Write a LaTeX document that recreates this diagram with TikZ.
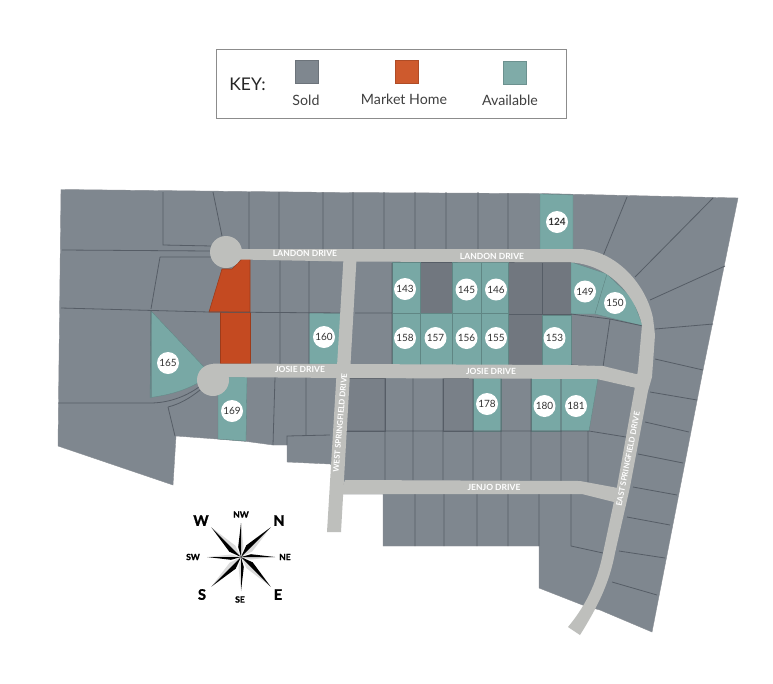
\documentclass[tikz,border=0pt]{standalone}
\usepackage{fontspec}
\setmainfont{Lato}
\newfontfamily\compassfont[BoldFeatures={FakeBold=1.6}]{Lato}
\definecolor{sold}{HTML}{7F878F}
\definecolor{solddark}{HTML}{71777F}
\definecolor{lotline}{HTML}{565D66}
\definecolor{roadc}{HTML}{BEBFBC}
\definecolor{avail}{HTML}{78A8A5}
\definecolor{market}{HTML}{C44A21}
\definecolor{keymarket}{HTML}{CE5A2D}
\definecolor{keyavail}{HTML}{7FABA8}
\tikzset{
  lotlines/.style={draw=lotline,line width=0.8pt},
  teal/.style={fill=avail,draw=avail!80!black,line width=0.3pt},
  darklot/.style={fill=solddark,draw=lotline,line width=0.6pt},
  softlot/.style={fill=solddark!45!sold,draw=lotline,line width=0.6pt},
  mkt/.style={fill=market,draw=market!80!black,line width=0.6pt},
  roadfill/.style={fill=roadc,draw=none},
  lotnum/.style={circle,fill=white,minimum size=22pt,inner sep=0pt,font=\fontsize{10}{10}\selectfont,text=black!80},
  roadlabel/.style={font=\fontsize{8.5}{9}\bfseries\selectfont,text=white,inner sep=0pt},
  keysq/.style={draw=#1!85!black,fill=#1,line width=0.6pt},
  keylabel/.style={font=\fontsize{14.2}{15}\selectfont,text=black!75,inner sep=0pt},
  compasslabel/.style={font=\compassfont\fontsize{#1}{12}\bfseries\selectfont,text=black,inner sep=0pt}
}
\begin{document}
\begin{tikzpicture}[x=1pt,y=-1pt]
\useasboundingbox (0,0) rectangle (773,683);
\fill[white] (0,0) rectangle (773,683);

% key
\draw[draw=black!45,line width=0.8pt] (216.5,49) rectangle (566,118.5);
\draw[keysq=sold] (295,60.5) rectangle (318,83);
\draw[keysq=keymarket] (395,60.5) rectangle (418,83);
\draw[keysq=keyavail] (503,61.5) rectangle (526,84);
\node[font=\fontsize{17.5}{18}\selectfont,text=black!85,inner sep=0pt] (keytitle) at (247.5,84) {KEY:};
\node[keylabel] (keysold) at (306,100.5) {Sold};
\node[keylabel] (keymkt) at (404,99.5) {Market Home};
\node[keylabel] (keyav) at (510,100) {Available};

% land
\fill[sold,draw=lotline!70,line width=0.4pt]
  (61,189.5) -- (340,192.5) -- (540,193.5) -- (738,198) -- (703,370) -- (652,632)
  -- (600,610) -- (585,606) -- (539,588) -- (539,546) -- (383,546) -- (383,494)
  -- (342,494) -- (342,470) -- (330,464) -- (287,462) -- (287,445) -- (273,445)
  -- (247,441.5) -- (217,439) -- (176,436) -- (173,485) -- (58,446) -- cycle;

% darker lots
\draw[darklot] (420,262) rectangle (452,313);
\draw[darklot] (508,262) rectangle (542,314);
\draw[darklot] (542,262) rectangle (571,314);
\draw[darklot] (508,314) rectangle (542,365);
\draw[softlot] (346,378) rectangle (385,431);
\draw[softlot] (443,378) rectangle (473,431);

% available lots
\draw[teal] (540,194) -- (573,195) -- (573,250) -- (540,250) -- cycle;
\draw[teal] (392,262) rectangle (420,313);
\draw[teal] (452,262) rectangle (481,313);
\draw[teal] (481,262) rectangle (508,313);
\draw[teal] (571,262) -- (607,274) -- (595,314) -- (571,314) -- cycle;
\draw[teal] (607,274) -- (632,298) -- (643,326) -- (595,314) -- cycle;
\draw[teal] (392,313) rectangle (420,365);
\draw[teal] (420,313) rectangle (452,365);
\draw[teal] (452,313) rectangle (481,365);
\draw[teal] (481,313) rectangle (508,365);
\draw[teal] (542,315) rectangle (571,366);
\draw[teal] (309,313) -- (342,313) -- (340,364) -- (309,364) -- cycle;
\draw[teal] (151,311) -- (204,367) -- (198,383) .. controls (185,390) and (170,395) .. (150,397.5) -- cycle;
\draw[teal] (218,385) -- (228,377) -- (247,377) -- (246,441) -- (218,439) -- cycle;
\draw[teal] (473,378) rectangle (501,431);
\draw[teal] (531,378) rectangle (561,431);
\draw[teal] (561,378) -- (598,378) -- (589,431) -- (561,431) -- cycle;

% market homes
\draw[mkt] (222,269) -- (232,269) -- (242,259) -- (250,259) -- (250,312) -- (209,312) -- cycle;
\draw[mkt] (220,312) -- (250,312) -- (250,363) -- (220,363) -- cycle;

% lot lines
\draw[lotlines]
  (163,192) -- (163,245) -- (212,246)
  (213,192) -- (222,236)
  (249,192) -- (249,249) (279,192) -- (279,249) (323,192) -- (323,249)
  (353,192) -- (353,249) (384,192) -- (384,249) (415,192) -- (415,249)
  (446,192) -- (446,249) (478,192) -- (478,249) (508,193) -- (508,249)
  (62,250) -- (211,251)
  (160,257) -- (211,257) (160,257) -- (151,309)
  (61,308) -- (209,312) -- (345,313)
  (280,259) -- (280,364) (309,259) -- (309,364)
  (151,311) -- (151,397)
  (355,313) -- (392,313)
  (392,263) -- (392,364)
  (571,314) -- (610,319) -- (643,326)
  (610,319) -- (603,367)
  (571,365) -- (603,367) -- (637,375)
  (627,197) -- (603,256)
  (713,198) -- (635,277)
  (725,266) -- (650,300)
  (713,324) -- (655,329)
  (703,370) -- (655,359)
  (650,392) -- (697,400)
  (645,422) -- (689,432)
  (638,454) -- (683,463)
  (633,487) -- (677,495)
  (627,517) -- (670,525)
  (619,551) -- (665,558)
  (612,582) -- (657,595)
  (58,403) -- (150,403) .. controls (168,403) and (185,397) .. (199,387)
  (168,407) .. controls (180,404) and (190,398) .. (200,390)
  (168,407) -- (175,436)
  (275,377) -- (273,445) (306,377) -- (306,436)
  (287,445) -- (287,436) -- (330,435)
  (347,431) -- (589,431) -- (626,437)
  (598,378) -- (637,388)
  (385,378) -- (385,480) (413,378) -- (413,480) (443,378) -- (443,480)
  (473,378) -- (473,480) (501,378) -- (501,480) (531,378) -- (531,480)
  (561,378) -- (561,481) (588,431) -- (588,482)
  (415,494) -- (415,546) (444,494) -- (444,546) (477,494) -- (477,546)
  (508,494) -- (508,546) (539,494) -- (539,546) (571,494) -- (571,546)
  (571,546) -- (603,553);

% roads
\draw[roadfill]
  (240,249) -- (580,249) .. controls (612,250) and (645,280) .. (653,318)
  -- (655,335) -- (652,377) -- (648,391) -- (630,487) -- (615,553)
  .. controls (610,580) and (600,603) .. (580,635) -- (568,627)
  .. controls (588,603) and (598,578) .. (603,553) -- (617,487) -- (638,370)
  -- (642,325) .. controls (635,295) and (610,266) .. (573,262.5) -- (345,261.5) -- (240,259.5) -- cycle;
\fill[roadc] (226,252) circle[radius=16];
\fill[roadc] (213,380) circle[radius=16];
\fill[roadc] (213,363.5) -- (345,364) -- (570,365) -- (603,366) -- (640,375) -- (638,388.5) -- (597,379) -- (345,378) -- (213,377) -- cycle;
\fill[roadc] (345,480) -- (580,481) -- (618,488) -- (614,502) -- (582,494) -- (340,494) -- cycle;
\fill[roadc] (344,250) -- (357,250) -- (341,532) -- (327,532) -- cycle;

% road labels
\node[roadlabel] (l1) at (305,253.5) {LANDON DRIVE};
\node[roadlabel] (l2) at (492,256) {LANDON DRIVE};
\node[roadlabel] (j1) at (300,369.5) {JOSIE DRIVE};
\node[roadlabel] (j2) at (491,371.5) {JOSIE DRIVE};
\node[roadlabel] (j3) at (494,487) {JENJO DRIVE};
\node[roadlabel,rotate=85,font=\fontsize{7.9}{9}\bfseries\selectfont] (ws) at (340,423) {WEST SPRINGFIELD DRIVE};
\node[roadlabel,rotate=79,font=\fontsize{7.9}{9}\bfseries\selectfont] (es) at (628,459) {EAST SPRINGFIELD DRIVE};

% lot numbers
\node[lotnum,font=\fontsize{10}{10}\bfseries\selectfont] (n124) at (557,222) {124};
\node[lotnum] (n143) at (405,289) {143};
\node[lotnum] (n145) at (466.5,289.5) {145};
\node[lotnum] (n146) at (496,289.5) {146};
\node[lotnum] (n149) at (585,291.5) {149};
\node[lotnum] (n150) at (615,303) {150};
\node[lotnum] (n158) at (405,338) {158};
\node[lotnum] (n157) at (435.5,338) {157};
\node[lotnum] (n156) at (466.5,338) {156};
\node[lotnum] (n155) at (496,338) {155};
\node[lotnum] (n153) at (554.5,338) {153};
\node[lotnum] (n160) at (324,337) {160};
\node[lotnum] (n165) at (168,363) {165};
\node[lotnum] (n169) at (232,411) {169};
\node[lotnum] (n178) at (487,404) {178};
\node[lotnum] (n180) at (544.5,406) {180};
\node[lotnum] (n181) at (576,406) {181};

% compass
\begin{scope}[shift={(241,557)}]
  \foreach \a in {45,135,225,315}{
    \begin{scope}[rotate=\a]
      \fill[black!14] (0,0) -- (42,0) -- (12,4) -- cycle;
      \fill[black] (0,0) -- (42,0) -- (12,-4.5) -- cycle;
    \end{scope}
  }
  \foreach \a in {0,90,180,270}{
    \begin{scope}[rotate=\a]
      \fill[black!14] (0,0) -- (34,0) -- (10,2.5) -- cycle;
      \fill[black] (0,0) -- (34,0) -- (10,-2.8) -- cycle;
    \end{scope}
  }
\end{scope}
\node[compasslabel=14.5] (cw) at (201,520.5) {W};
\node[compasslabel=8.5] (cnw) at (241,514.5) {NW};
\node[compasslabel=14.5] (cn) at (279,520.5) {N};
\node[compasslabel=8.5] (csw) at (193,557) {SW};
\node[compasslabel=8.5] (cne) at (285,557) {NE};
\node[compasslabel=14.5] (cs) at (202,594.5) {S};
\node[compasslabel=8.5] (cse) at (240,599.5) {SE};
\node[compasslabel=14.5] (ce) at (278,594.5) {E};
\end{tikzpicture}
\end{document}
